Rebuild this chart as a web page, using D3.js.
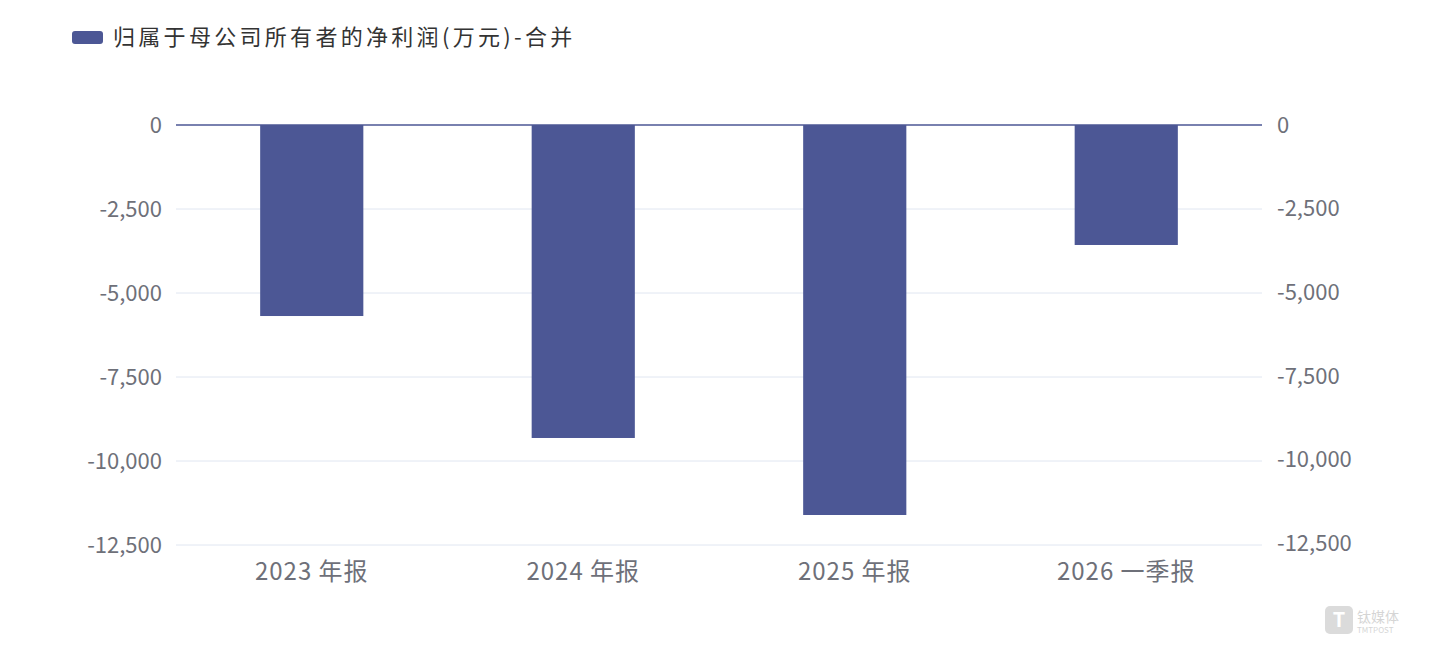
<!DOCTYPE html>
<html>
<head>
<meta charset="utf-8">
<script src="https://cdn.jsdelivr.net/npm/d3@7"></script>
<style>
  body { margin: 0; background: #fff; font-family: "Noto Sans CJK SC", "Noto Sans", sans-serif; }
</style>
</head>
<body>
<script>
const categories = ['2023 年报', '2024 年报', '2025 年报', '2026 一季报'];
const profit = [-5685, -9315, -11607, -3571];
const ticks = [0, -2500, -5000, -7500, -10000, -12500];
const seriesName = '归属于母公司所有者的净利润(万元)-合并';

const W = 1439, H = 660;
const mLeft = 176, mRight = 1262, mTop = 125, mBottom = 545;
const svg = d3.select('body').append('svg').attr('width', W).attr('height', H);

const x = d3.scaleBand().domain(categories).range([mLeft, mRight]).paddingInner(0.62).paddingOuter(0.31);
const y = d3.scaleLinear().domain([0, -12500]).range([mTop, mBottom]);
const fmt = d => d3.format(',')(d).replace('\u2212', '-');

// grid
svg.append('g').selectAll('line').data(ticks.slice(1)).enter().append('line')
  .attr('x1', mLeft).attr('x2', mRight)
  .attr('y1', d => y(d)).attr('y2', d => y(d))
  .attr('stroke', '#e0e6f1');

// left axis labels
svg.append('g').selectAll('text').data(ticks).enter().append('text')
  .attr('x', 162).attr('y', d => y(d)).attr('dy', '0.35em')
  .attr('text-anchor', 'end').attr('fill', '#6e7079').attr('font-size', 22)
  .text(d => fmt(d));

// right axis labels (slightly compressed in reference)
const yr = d3.scaleLinear().domain([0, -12500]).range([mTop, 543]);
svg.append('g').selectAll('text').data(ticks).enter().append('text')
  .attr('x', 1277).attr('y', d => yr(d)).attr('dy', '0.35em')
  .attr('text-anchor', 'start').attr('fill', '#6e7079').attr('font-size', 22)
  .text(d => fmt(d));

// bars
svg.append('g').selectAll('rect').data(profit).enter().append('rect')
  .attr('x', (d, i) => x(categories[i]))
  .attr('width', x.bandwidth())
  .attr('y', y(0))
  .attr('height', d => y(d) - y(0))
  .attr('fill', '#4c5795');

// zero line
svg.append('line').attr('x1', mLeft).attr('x2', mRight)
  .attr('y1', y(0)).attr('y2', y(0)).attr('stroke', '#4c5795').attr('stroke-width', 1.5);

// category labels
svg.append('g').selectAll('text').data(categories).enter().append('text')
  .attr('x', d => x(d) + x.bandwidth() / 2).attr('y', 572).attr('dy', '0.35em')
  .attr('text-anchor', 'middle').attr('fill', '#6e7079').attr('font-size', 24)
  .attr('letter-spacing', 1)
  .text(d => d);

// legend
svg.append('rect').attr('x', 72).attr('y', 31).attr('width', 31).attr('height', 13)
  .attr('rx', 3).attr('fill', '#4c5795');
svg.append('text').attr('x', 113).attr('y', 37).attr('dy', '0.35em')
  .attr('fill', '#333').attr('font-size', 22).attr('letter-spacing', 3.3).text(seriesName);

// watermark
const wm = svg.append('g').attr('opacity', 0.35);
wm.append('rect').attr('x', 1325).attr('y', 606).attr('width', 28).attr('height', 28).attr('rx', 5).attr('fill', '#999');
wm.append('text').attr('x', 1339).attr('y', 627).attr('text-anchor', 'middle').attr('fill', '#fff')
  .attr('font-size', 20).attr('font-weight', 'bold').text('T');
wm.append('text').attr('x', 1357).attr('y', 622).attr('fill', '#888').attr('font-size', 14).text('钛媒体');
wm.append('text').attr('x', 1357).attr('y', 633).attr('fill', '#888').attr('font-size', 8).text('TMTPOST');
</script>
</body>
</html>
